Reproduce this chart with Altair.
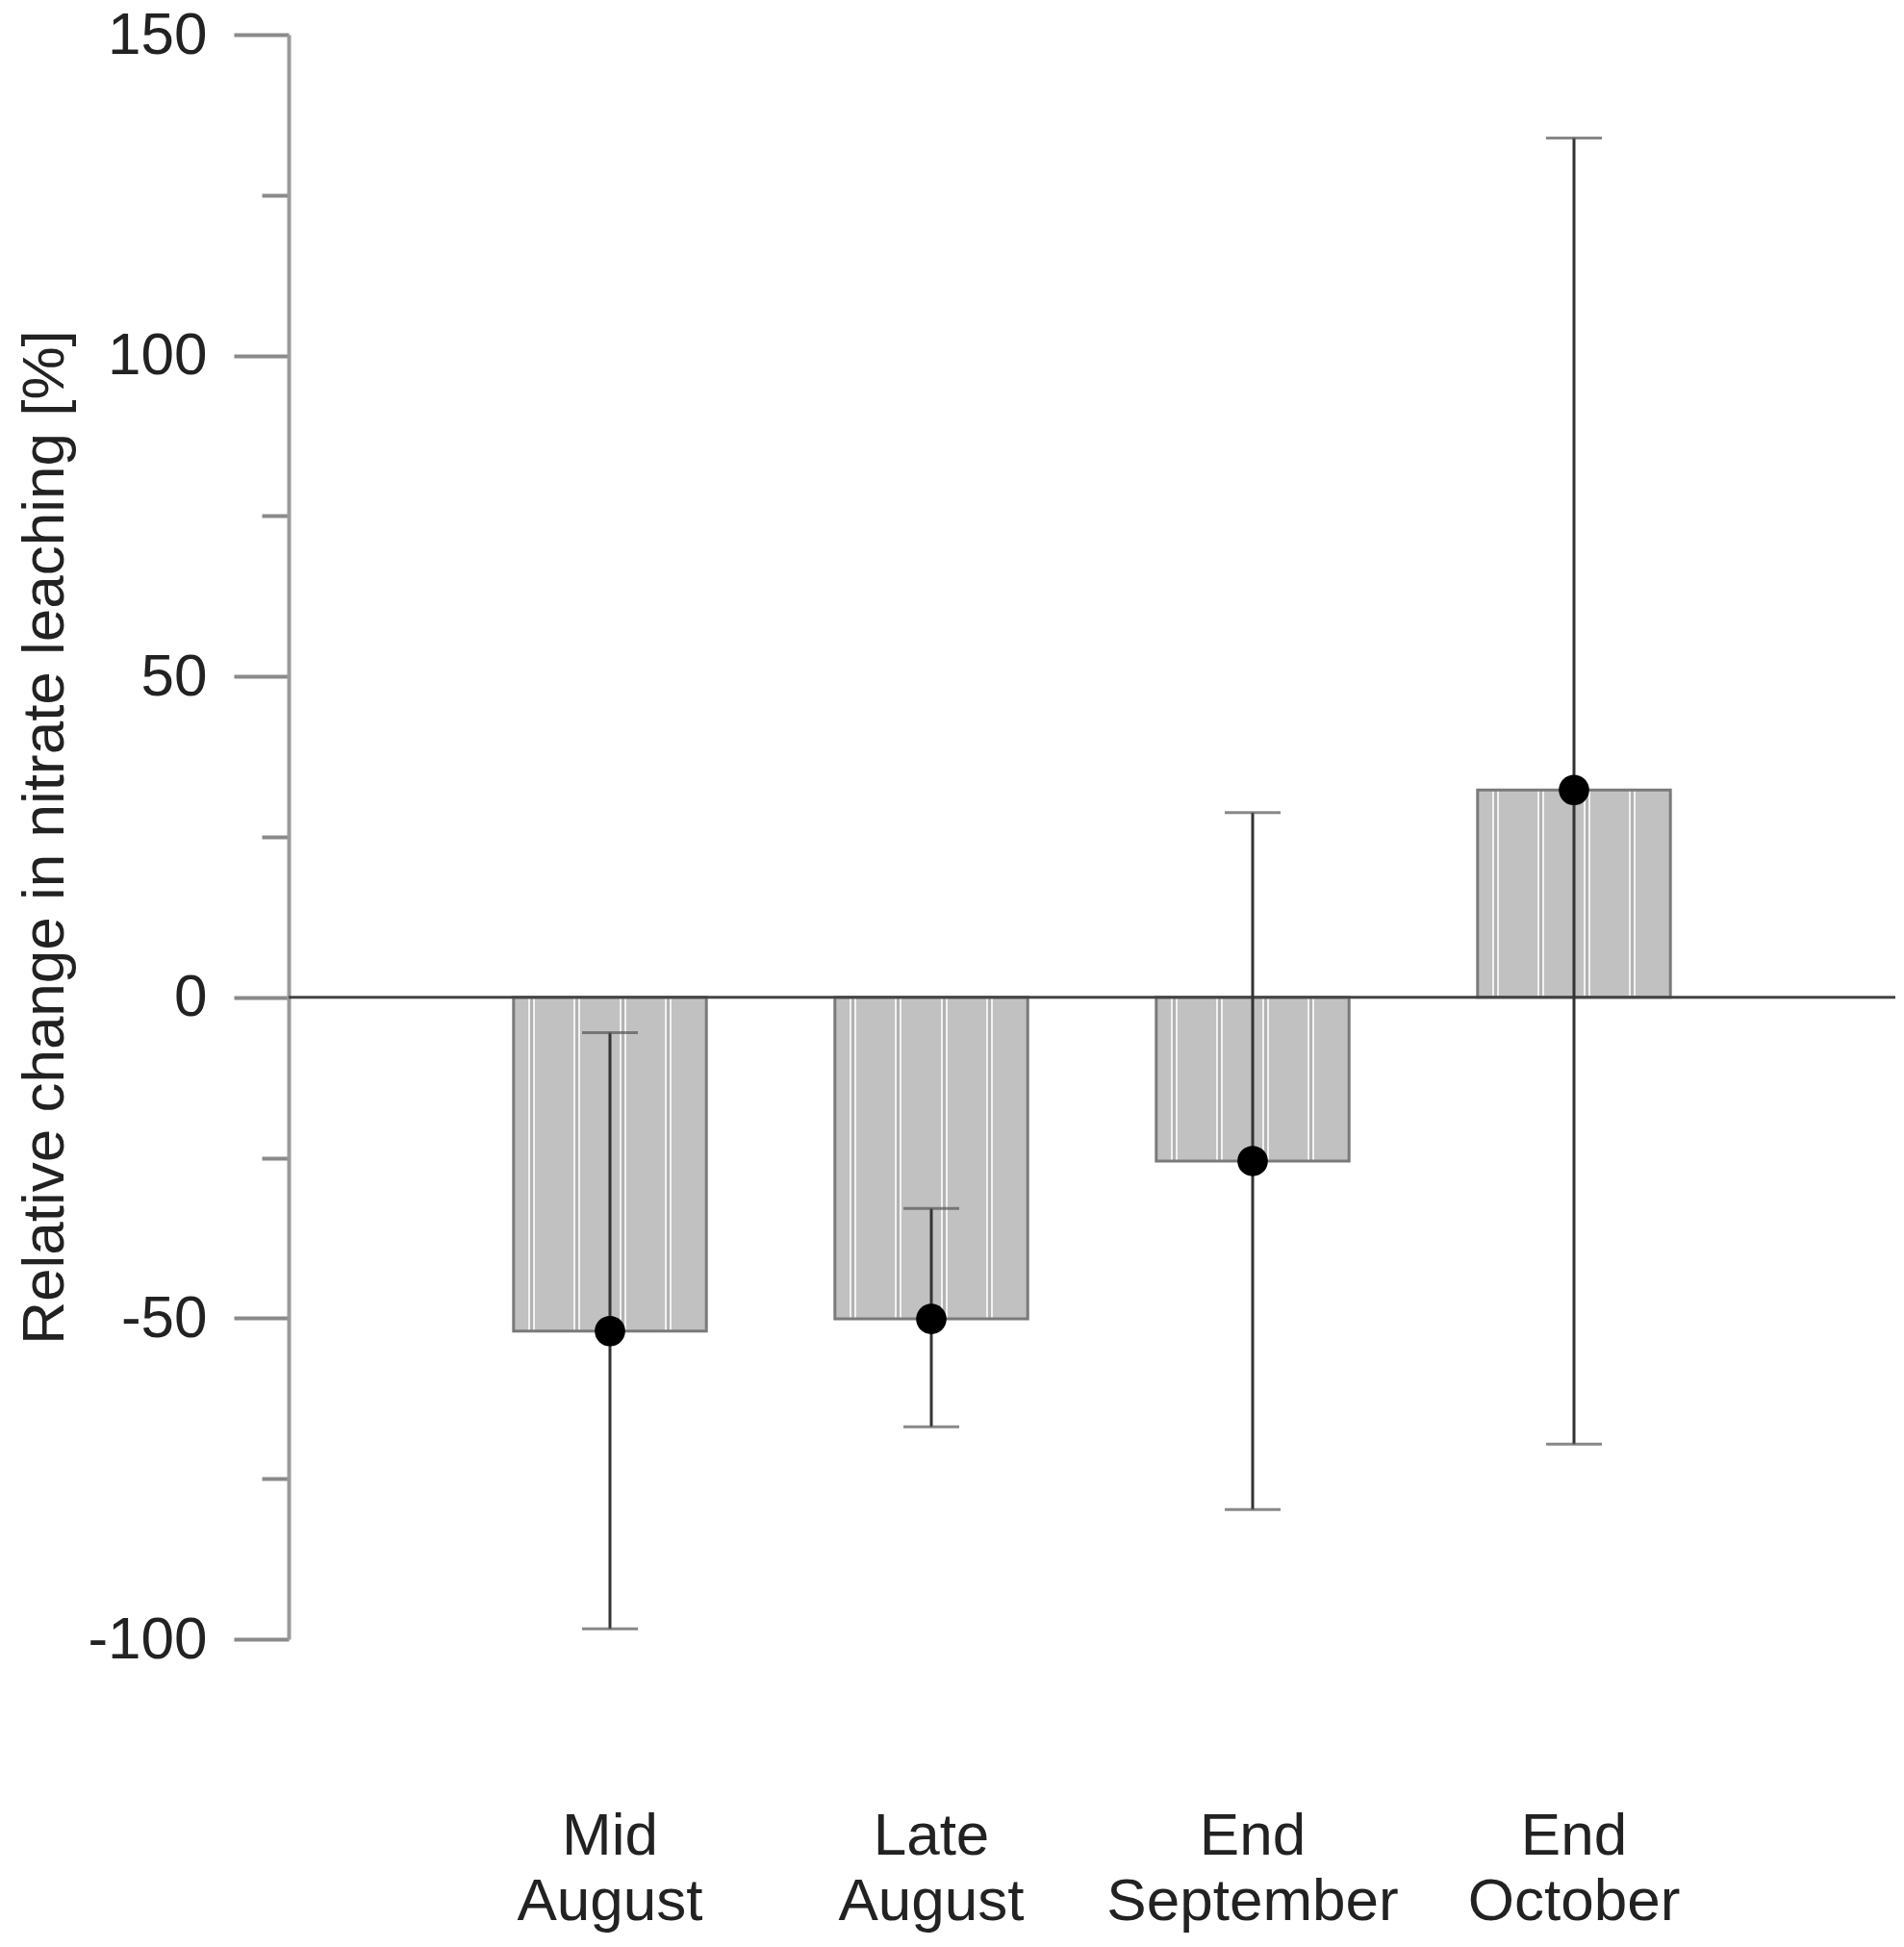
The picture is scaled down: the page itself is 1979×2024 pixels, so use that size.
import altair as alt
import pandas as pd

# Data
categories = ["Mid August", "Late August", "End September", "End October"]
mean_change = [-52.0, -50.1, -25.5, 32.3]
lower = [-98.4, -66.9, -79.8, -69.6]
upper = [-5.5, -32.9, 28.8, 133.9]

df = pd.DataFrame({"period": categories, "mean": mean_change, "lo": lower, "hi": upper})
zero_df = pd.DataFrame({"z": [0]})

FONT = "Liberation Sans"
TXT = "#222222"

# Stippled bar fill: grey with thin vertical white double lines (style only)
BAR_W = 200.4
BASE = "#c1c1c1"
stops = [alt.GradientStop(offset=0, color=BASE)]
for c in [19.0, 66.5, 114.0, 161.5]:
    for a, b, col in [(c - 4, c - 2, "#f4f4f4"), (c - 2, c + 2, "#b0b0b0"), (c + 2, c + 4, "#f4f4f4")]:
        stops.append(alt.GradientStop(offset=a / BAR_W, color=BASE if col != "#f4f4f4" or a == c - 4 else col))
    # sharp transitions
stops = [alt.GradientStop(offset=0, color=BASE)]
for c in [19.0, 66.5, 114.0, 161.5]:
    segs = [(c - 4, c - 2, "#f2f2f2"), (c - 2, c + 1, "#b2b2b2"), (c + 1, c + 3, "#f2f2f2")]
    prev = BASE
    for a, b, col in segs:
        stops.append(alt.GradientStop(offset=a / BAR_W, color=prev))
        stops.append(alt.GradientStop(offset=a / BAR_W, color=col))
        stops.append(alt.GradientStop(offset=b / BAR_W, color=col))
        prev = col
    stops.append(alt.GradientStop(offset=(c + 3) / BAR_W, color=BASE))
stops.append(alt.GradientStop(offset=1, color=BASE))
bar_fill = alt.LinearGradient(gradient="linear", stops=stops, x1=0, x2=1, y1=0, y2=0)

yscale = alt.Scale(domain=[-100, 150], nice=False, zero=False)
yaxis = alt.Axis(
    title="Relative change in nitrate leaching [%]",
    values=list(range(-100, 151, 25)),
    tickSize=alt.expr("datum.value % 50 === 0 ? 57 : 28"),
    tickWidth=4,
    tickColor="#8a8a8a",
    domainColor="#9a9a9a",
    domainWidth=4,
    grid=False,
    labelExpr="datum.value % 50 === 0 ? ('' + datum.value) : ''",
    labelFontSize=62,
    labelFont=FONT,
    labelColor=TXT,
    labelPadding=28,
    titleFontSize=62,
    titleFont=FONT,
    titleFontWeight="normal",
    titleColor=TXT,
    titlePadding=22,
)

xenc = alt.X(
    "period:N",
    sort=categories,
    scale=alt.Scale(paddingInner=0.4, paddingOuter=0.7),
    axis=alt.Axis(
        title=None,
        domain=False,
        ticks=False,
        labelAngle=0,
        labelFontSize=62,
        labelFont=FONT,
        labelColor=TXT,
        labelPadding=174,
        labelLineHeight=68,
        labelLimit=0,
        labelExpr="split(datum.label, ' ')",
    ),
)

base = alt.Chart(df)

bars = base.mark_bar(fill=bar_fill, stroke="#7a7a7a", strokeWidth=3).encode(
    x=xenc,
    y=alt.Y("mean:Q", scale=yscale, axis=yaxis),
)

zero_rule = alt.Chart(zero_df).mark_rule(color="#444444", strokeWidth=3).encode(
    y=alt.Y("z:Q", scale=yscale, axis=yaxis)
)

err = base.mark_rule(color="#333333", strokeWidth=3).encode(
    x=xenc,
    y=alt.Y("lo:Q", scale=yscale, axis=yaxis),
    y2="hi:Q",
)

caps = base.transform_fold(["lo", "hi"], as_=["end", "val"]).mark_tick(
    color="#555555", size=58, thickness=3
).encode(
    x=xenc,
    y=alt.Y("val:Q", scale=yscale, axis=yaxis),
)

dots = base.mark_circle(color="black", opacity=1, size=1000).encode(
    x=xenc,
    y=alt.Y("mean:Q", scale=yscale, axis=yaxis),
)

chart = (
    alt.layer(bars, zero_rule, err, caps, dots)
    .properties(
        width=1670,
        height=1668,
        autosize="none",
        padding={"left": 292, "top": 28, "right": 1, "bottom": 312},
        background="white",
    )
    .configure_view(stroke=None)
)

chart.save("out.html", embed_options={"renderer": "svg", "actions": False})
